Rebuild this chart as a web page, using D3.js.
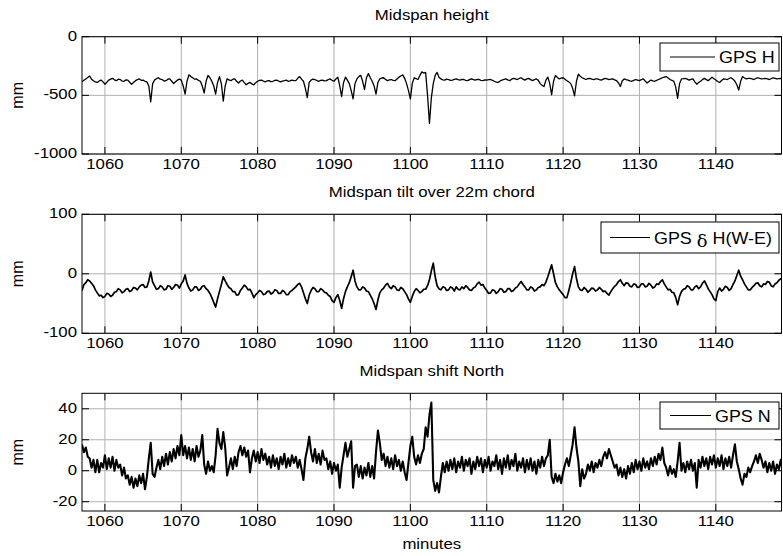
<!DOCTYPE html>
<html>
<head>
<meta charset="utf-8">
<script src="https://cdn.jsdelivr.net/npm/d3@7"></script>
<style>
body{margin:0;background:#fff;}
svg{display:block;}
text{font-family:"Liberation Sans",Arial,Helvetica,sans-serif;fill:#000;}
</style>
</head>
<body>
<script>
const WIDTH=783, HEIGHT=556;
const SX=1.12; // text in the picture is a bit wider than tall

// time axis (minutes), every series has one value per 0.25 min from T0
const T0=1057, STEP=0.25;
const xDomain=[1057,1148.6];
const xTicks=[1060,1070,1080,1090,1100,1110,1120,1130,1140];

// GPS H, mm (one row = 2 minutes)
const gpsH=[
 -385,-372,-360,-348,-335,-362,-375,-386,
 -390,-378,-370,-385,-405,-388,-370,-362,
 -355,-368,-375,-362,-365,-378,-380,-368,
 -370,-388,-405,-390,-375,-366,-360,-372,
 -370,-380,-385,-420,-555,-400,-370,-358,
 -350,-362,-365,-378,-375,-362,-360,-380,
 -400,-384,-370,-362,-370,-420,-490,-380,
 -325,-340,-350,-362,-360,-372,-380,-420,
 -480,-380,-330,-350,-380,-420,-490,-390,
 -340,-400,-550,-420,-360,-368,-375,-362,
 -360,-380,-395,-378,-370,-392,-410,-398,
 -390,-402,-410,-392,-380,-372,-370,-378,
 -385,-376,-375,-384,-380,-372,-370,-378,
 -385,-378,-375,-370,-380,-376,-370,-374,
 -375,-355,-340,-362,-380,-440,-520,-390,
 -370,-362,-365,-374,-380,-372,-370,-376,
 -375,-366,-360,-372,-380,-360,-345,-420,
 -510,-390,-345,-370,-400,-460,-530,-400,
 -360,-340,-330,-380,-450,-350,-315,-350,
 -380,-420,-490,-390,-360,-352,-350,-364,
 -375,-368,-365,-372,-375,-360,-345,-335,
 -325,-355,-400,-460,-530,-400,-350,-358,
 -365,-330,-300,-310,-305,-500,-740,-520,
 -400,-330,-305,-345,-360,-368,-370,-362,
 -365,-372,-370,-364,-360,-366,-370,-364,
 -365,-372,-375,-366,-360,-365,-370,-364,
 -365,-372,-375,-368,-370,-366,-365,-372,
 -380,-388,-390,-378,-370,-364,-360,-368,
 -375,-362,-355,-360,-365,-356,-350,-362,
 -370,-360,-355,-366,-375,-366,-360,-372,
 -400,-415,-425,-370,-345,-400,-495,-380,
 -330,-348,-360,-354,-350,-362,-375,-385,
 -400,-440,-505,-380,-320,-338,-350,-358,
 -365,-358,-355,-362,-365,-360,-360,-366,
 -370,-362,-355,-360,-365,-362,-360,-368,
 -375,-395,-425,-375,-360,-366,-370,-376,
 -380,-372,-365,-370,-375,-366,-360,-378,
 -395,-382,-370,-376,-380,-372,-365,-358,
 -350,-344,-340,-352,-365,-372,-380,-430,
 -525,-400,-360,-358,-355,-362,-370,-364,
 -360,-385,-405,-390,-380,-366,-355,-366,
 -375,-360,-345,-358,-370,-382,-390,-374,
 -360,-362,-365,-356,-350,-362,-380,-410,
 -455,-380,-340,-352,-360,-356,-355,-360,
 -365,-356,-350,-356,-360,-358,-355,-360,
 -365,-358,-350,-355,-360,-357,-355,-358,
 -360
];

// GPS dH(W-E), mm
const gpsDH=[
 -28,-18,-15,-10,-12,-16,-20,-27,
 -32,-37,-36,-40,-38,-33,-34,-38,
 -36,-31,-30,-25,-27,-32,-30,-26,
 -25,-30,-28,-23,-24,-27,-22,-19,
 -18,-23,-22,-12,3,-14,-20,-26,
 -25,-20,-22,-27,-26,-20,-21,-26,
 -23,-18,-19,-24,-17,-12,-2,-16,
 -24,-29,-27,-22,-22,-28,-26,-21,
 -20,-25,-28,-33,-40,-48,-56,-42,
 -30,-18,-5,-12,-18,-23,-25,-30,
 -30,-36,-35,-28,-24,-19,-22,-27,
 -26,-32,-40,-35,-32,-28,-30,-35,
 -34,-30,-29,-34,-32,-27,-28,-33,
 -33,-28,-30,-35,-35,-30,-28,-25,
 -22,-18,-16,-22,-32,-42,-50,-36,
 -28,-23,-25,-30,-30,-25,-27,-31,
 -32,-36,-38,-45,-48,-40,-35,-45,
 -58,-42,-30,-22,-15,-5,6,-12,
 -22,-27,-27,-22,-24,-29,-30,-36,
 -42,-50,-60,-44,-32,-27,-24,-19,
 -16,-22,-25,-20,-22,-27,-28,-23,
 -25,-30,-35,-42,-48,-38,-30,-25,
 -28,-32,-30,-26,-26,-20,-10,5,
 18,-5,-20,-25,-27,-22,-23,-28,
 -27,-22,-24,-29,-22,-26,-27,-22,
 -25,-20,-23,-27,-28,-24,-22,-17,
 -14,-19,-18,-24,-28,-33,-32,-27,
 -28,-33,-30,-25,-26,-31,-30,-25,
 -25,-30,-28,-24,-22,-17,-13,-18,
 -22,-27,-27,-22,-24,-29,-27,-23,
 -22,-18,-20,-14,-5,5,15,0,
 -15,-22,-27,-31,-35,-40,-40,-28,
 -15,0,12,-8,-22,-27,-28,-23,
 -26,-31,-28,-24,-25,-29,-27,-23,
 -26,-30,-29,-33,-36,-30,-25,-21,
 -18,-13,-10,-16,-20,-15,-16,-21,
 -22,-17,-18,-23,-22,-17,-17,-22,
 -21,-16,-19,-24,-22,-17,-18,-13,
 -10,-17,-22,-27,-26,-31,-32,-40,
 -52,-38,-30,-26,-25,-20,-22,-27,
 -27,-22,-20,-25,-22,-16,-12,-18,
 -25,-30,-35,-42,-45,-30,-24,-29,
 -26,-21,-23,-28,-25,-18,-12,-3,
 6,-4,-10,-17,-22,-27,-27,-23,
 -20,-16,-15,-20,-22,-17,-18,-13,
 -14,-20,-22,-17,-15,-11,-8,-12,
 -8
];

// GPS N, mm
const gpsN=[
 17,12,15,9,8,2,7,-1,
 7,-1,5,2,10,1,8,2,
 9,0,7,2,4,-3,2,-5,
 -3,-9,-4,-11,-5,-10,-3,-8,
 -2,-12,-4,8,18,-2,-4,2,
 7,1,9,3,11,4,12,6,
 14,8,16,10,23,10,16,8,
 15,7,14,6,16,9,13,23,
 4,-2,6,0,3,-1,10,27,
 18,14,25,15,-3,2,8,1,
 9,3,12,16,10,15,9,13,
 -1,8,13,6,12,5,14,7,
 11,4,9,2,10,3,8,1,
 9,4,11,2,8,3,10,5,
 9,2,7,1,-6,8,14,22,
 12,6,14,5,11,4,13,7,
 8,1,6,-2,5,0,4,-11,
 2,10,18,9,14,19,-11,3,
 4,-4,3,-5,2,-3,5,-4,
 3,-5,12,26,18,7,11,3,
 9,2,8,1,10,3,7,0,
 6,-1,-6,5,16,22,9,4,
 10,5,11,14,28,22,36,44,
 -6,-13,-8,-14,-4,5,-1,6,
 0,7,1,8,-1,6,2,9,
 0,7,3,8,-2,6,1,9,
 3,8,-1,7,2,9,0,6,
 3,10,1,7,-2,8,2,10,
 1,7,3,11,0,6,2,8,
 -1,7,1,8,0,6,-2,7,
 2,9,3,8,10,20,-4,-8,
 -2,-7,-3,-8,-1,4,8,3,
 10,17,28,15,6,-10,1,-5,
 -2,4,0,6,-1,5,2,7,
 3,9,12,8,14,10,6,2,
 4,-3,2,-4,1,-5,3,-2,
 5,-1,7,1,6,0,8,2,
 6,1,8,3,9,4,11,7,
 15,5,2,-3,3,-2,1,-4,
 6,18,0,5,-1,6,1,7,
 0,5,-11,7,2,9,3,8,
 1,9,4,10,2,8,3,10,
 1,8,3,9,2,10,17,6,
 1,-5,-9,-2,-4,2,-1,3,
 6,10,5,11,7,2,6,-1,
 5,0,6,-2,4,1,7,0,
 3
];

const titles=['Midspan height','Midspan tilt over 22m chord','Midspan shift North'];
const yDomains=[[-1000,0],[-100,100],[-26,50]];
const yTicks=[[-1000,-500,0],[-100,0,100],[-20,0,20,40]];

const LEFT=82, RIGHT=781.5;
const panels=[
  {values:gpsH, lw:1.3, top:36.7, bottom:154, legend:[660,43,119,28], legendLine:[670,715]},
  {values:gpsDH, lw:1.7, top:214.3, bottom:333.3, legend:[601,222,178,31], legendLine:[610,650]},
  {values:gpsN, lw:2.1, top:393.3, bottom:511, legend:[660,402,119,27], legendLine:[670,711]}
];

function label(g,x,y,str,anchor,size){
  return g.append('text')
    .attr('transform',`translate(${x},${y}) scale(${SX},1)`)
    .attr('text-anchor',anchor)
    .style('font-size',size+'px')
    .text(str);
}

function drawPanel(svg,p,k){
  let x=d3.scaleLinear().domain(xDomain).range([LEFT,RIGHT]);
  let y=d3.scaleLinear().domain(yDomains[k]).range([p.bottom,p.top]);
  let g=svg.append('g');

  // grid
  g.selectAll('line.gx').data(xTicks).enter().append('line')
    .attr('x1',d=>x(d)).attr('x2',d=>x(d))
    .attr('y1',p.top).attr('y2',p.bottom)
    .style('stroke','#b0b0b0').style('stroke-width',1);
  g.selectAll('line.gy').data(yTicks[k]).enter().append('line')
    .attr('x1',LEFT).attr('x2',RIGHT)
    .attr('y1',d=>y(d)).attr('y2',d=>y(d))
    .style('stroke','#b0b0b0').style('stroke-width',1);

  // data
  let clipId='clip'+k;
  g.append('clipPath').attr('id',clipId).append('rect')
    .attr('x',LEFT).attr('y',p.top).attr('width',RIGHT-LEFT).attr('height',p.bottom-p.top);
  let line=d3.line().x((d,i)=>x(T0+i*STEP)).y(d=>y(d));
  g.append('path').datum(p.values)
    .attr('clip-path',`url(#${clipId})`)
    .attr('d',line)
    .style('fill','none').style('stroke','#000').style('stroke-width',p.lw)
    .style('stroke-linejoin','round');

  // ticks (inward, on all four sides)
  const TL=7;
  xTicks.forEach(t=>{
    g.append('line').attr('x1',x(t)).attr('x2',x(t)).attr('y1',p.bottom).attr('y2',p.bottom-TL).style('stroke','#000');
    g.append('line').attr('x1',x(t)).attr('x2',x(t)).attr('y1',p.top).attr('y2',p.top+TL).style('stroke','#000');
    label(g,x(t),p.bottom+15,t,'middle',15);
  });
  yTicks[k].forEach(t=>{
    g.append('line').attr('x1',LEFT).attr('x2',LEFT+TL).attr('y1',y(t)).attr('y2',y(t)).style('stroke','#000');
    g.append('line').attr('x1',RIGHT).attr('x2',RIGHT-TL).attr('y1',y(t)).attr('y2',y(t)).style('stroke','#000');
    label(g,LEFT-5,y(t)+4,t,'end',15);
  });

  // box
  g.append('rect').attr('x',LEFT).attr('y',p.top)
    .attr('width',RIGHT-LEFT).attr('height',p.bottom-p.top)
    .style('fill','none').style('stroke','#000').style('stroke-width',1);

  // title and y label
  label(g,(LEFT+RIGHT)/2,p.top-17,titles[k],'middle',15);
  g.append('text')
    .attr('transform',`translate(23,${(p.top+p.bottom)/2}) rotate(-90)`)
    .attr('text-anchor','middle')
    .style('font-size','16px')
    .text('mm');

  // legend
  let [lx,ly,lw,lh]=p.legend;
  g.append('rect').attr('x',lx).attr('y',ly).attr('width',lw).attr('height',lh)
    .style('fill','#fff').style('stroke','#000').style('stroke-width',1);
  let cy=ly+lh/2;
  g.append('line').attr('x1',p.legendLine[0]).attr('x2',p.legendLine[1])
    .attr('y1',cy).attr('y2',cy).style('stroke','#000');
  let txt=g.append('text')
    .attr('transform',`translate(${p.legendLine[1]+4},${cy+6}) scale(${SX},1)`)
    .style('font-size','16px');
  if(k===0) txt.text('GPS H');
  else if(k===2) txt.text('GPS N');
  else{
    txt.append('tspan').text('GPS ');
    txt.append('tspan').attr('dy',3).style('font-family','"DejaVu Serif",serif').text('δ');
    txt.append('tspan').attr('dy',-3).text(' H(W-E)');
  }
}

function main(){
  let svg=d3.select('body').append('svg')
    .attr('width',WIDTH).attr('height',HEIGHT);
  svg.append('rect').attr('width',WIDTH).attr('height',HEIGHT).style('fill','#fff');
  panels.forEach((p,k)=>drawPanel(svg,p,k));
  label(svg,(LEFT+RIGHT)/2,549,'minutes','middle',15);
}
main();
</script>
</body>
</html>
